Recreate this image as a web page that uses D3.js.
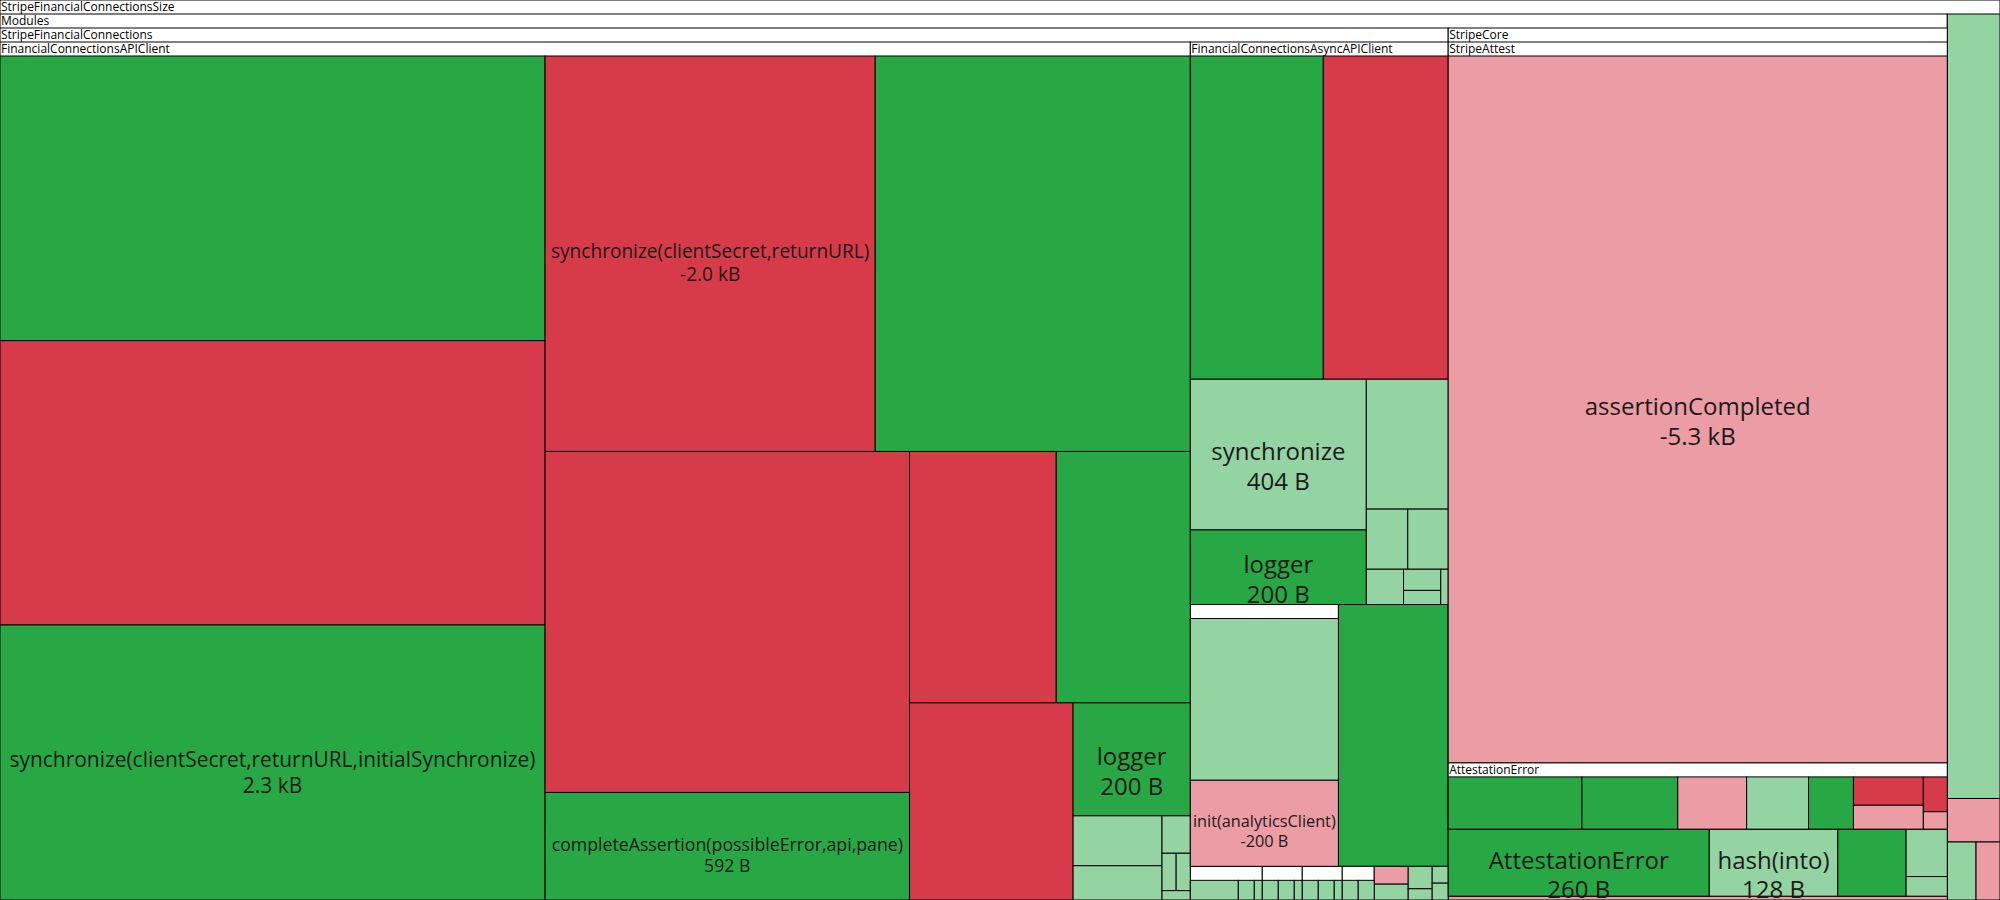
<!DOCTYPE html>
<html>
<head>
<meta charset="utf-8">
<script src="https://cdn.jsdelivr.net/npm/d3@7"></script>
<style>
  html, body { margin: 0; padding: 0; background: #fff; }
  svg { display: block; font-family: "Open Sans", sans-serif; }
</style>
</head>
<body>
<svg id="chart" width="2000" height="900"></svg>
<script>
// ---------------- DATA (bytes, signed change; status drives colour) ----------------
const apiClientLeaves = [
  { name: "", status: "added", change: 2343 },
  { name: "", status: "removed", change: -2341 },
  { name: "synchronize(clientSecret,returnURL,initialSynchronize)", status: "added", change: 2264 },
  { name: "synchronize(clientSecret,returnURL)", status: "removed", change: -1972 },
  { name: "", status: "added", change: 1882 },
  { name: "", status: "removed", change: -1877 },
  { name: "completeAssertion(possibleError,api,pane)", status: "added", change: 592 },
  { name: "", status: "removed", change: -557 },
  { name: "", status: "added", change: 509 },
  { name: "", status: "removed", change: -487 },
  { name: "logger", status: "added", change: 200 },
  { name: "", status: "increased", change: 67 },
  { name: "", status: "increased", change: 46 },
  { name: "", status: "increased", change: 16 },
  { name: "", status: "increased", change: 8 },
  { name: "", status: "increased", change: 8 },
  { name: "", status: "increased", change: 4 }
];

const asyncClientLeaves = [
  { name: "", status: "added", change: 655 },
  { name: "", status: "removed", change: -615 },
  { name: "synchronize", status: "increased", change: 404 },
  { name: "logger", status: "added", change: 200 },
  { name: "", status: "increased", change: 162 },
  { name: "", status: "increased", change: 38 },
  { name: "", status: "increased", change: 37 },
  { name: "", status: "increased", change: 20 },
  { name: "", status: "increased", change: 12 },
  { name: "", status: "increased", change: 8 },
  { name: "", status: "increased", change: 4 }
];

const asyncExtensionLeaves = [
  { name: "", status: "increased", change: 376 },
  { name: "init(analyticsClient)", status: "decreased", change: -200 }
];

const smallTypeA = [
  { name: "", status: "increased", change: 24 },
  { name: "", status: "increased", change: 8 },
  { name: "", status: "increased", change: 4 }
];
const smallTypeB = [
  { name: "", status: "increased", change: 8 },
  { name: "", status: "increased", change: 8 },
  { name: "", status: "increased", change: 4 }
];
const smallTypeC = [
  { name: "", status: "increased", change: 8 },
  { name: "", status: "increased", change: 8 },
  { name: "", status: "increased", change: 4 }
];
const smallTypeD = [
  { name: "", status: "increased", change: 8 },
  { name: "", status: "increased", change: 8 }
];

const connectionsLeaves = [
  { name: "", status: "added", change: 427 },
  { name: "", status: "decreased", change: -9 },
  { name: "", status: "increased", change: 8 },
  { name: "", status: "increased", change: 8 },
  { name: "", status: "increased", change: 4 },
  { name: "", status: "increased", change: 4 },
  { name: "", status: "increased", change: 4 }
];

const attestLeaves = [
  { name: "assertionCompleted", status: "decreased", change: -5337 }
];

const attestationErrorLeaves = [
  { name: "", status: "added", change: 134 },
  { name: "", status: "added", change: 96 },
  { name: "", status: "decreased", change: -69 },
  { name: "", status: "increased", change: 62 },
  { name: "", status: "added", change: 45 },
  { name: "", status: "removed", change: -38 },
  { name: "", status: "decreased", change: -32 },
  { name: "", status: "removed", change: -16 },
  { name: "", status: "decreased", change: -8 }
];

const coreLeaves = [
  { name: "AttestationError", status: "added", change: 260 },
  { name: "hash(into)", status: "increased", change: 128 },
  { name: "", status: "added", change: 68 },
  { name: "", status: "increased", change: 29 },
  { name: "", status: "increased", change: 12 }
];

const modulesLeaves = [
  { name: "", status: "decreased", change: -28 }
];

const rootLeaves = [
  { name: "", status: "increased", change: 595 },
  { name: "", status: "decreased", change: -33 },
  { name: "", status: "increased", change: 24 },
  { name: "", status: "decreased", change: -20 }
];

const statusColors = {
  added: "#28a745",
  removed: "#d73a49",
  increased: "#94d3a2",
  decreased: "#eb9ca4"
};

// ---------------- HIERARCHY ----------------
const tree = {
  name: "StripeFinancialConnectionsSize",
  children: [
    {
      name: "Modules",
      children: [
        {
          name: "StripeFinancialConnections",
          children: [
            { name: "FinancialConnectionsAPIClient", children: apiClientLeaves },
            { name: "FinancialConnectionsAsyncAPIClient", children: asyncClientLeaves },
            { name: "", children: asyncExtensionLeaves },
            { name: "", children: smallTypeA },
            { name: "", children: smallTypeB },
            { name: "", children: smallTypeC },
            { name: "", children: smallTypeD },
            ...connectionsLeaves
          ]
        },
        {
          name: "StripeCore",
          children: [
            {
              name: "StripeAttest",
              children: [
                ...attestLeaves,
                { name: "AttestationError", children: attestationErrorLeaves }
              ]
            },
            ...coreLeaves
          ]
        },
        ...modulesLeaves
      ]
    },
    ...rootLeaves
  ]
};

const W = 2000, H = 900;

const root = d3.hierarchy(tree)
  .sum(d => d.children ? 0 : Math.abs(d.change))
  .sort((a, b) => b.value - a.value);

d3.treemap()
  .size([W, H])
  .paddingTop(14)
  .tile(d3.treemapSquarify)(root);

const svg = d3.select("#chart");

function fmt(v) {
  const a = Math.abs(v);
  const s = v < 0 ? "-" : "";
  return a >= 1000 ? s + (a / 1000).toFixed(1) + " kB" : s + Math.round(a) + " B";
}

const node = svg.selectAll("g.node")
  .data(root.descendants())
  .join("g")
  .attr("class", "node");

node.append("rect")
  .attr("x", d => d.x0)
  .attr("y", d => d.y0)
  .attr("width", d => Math.max(0, d.x1 - d.x0))
  .attr("height", d => Math.max(0, d.y1 - d.y0))
  .attr("fill", d => d.children ? "#ffffff" : statusColors[d.data.status])
  .attr("stroke", "#000")
  .attr("stroke-width", 1);

// group headers
node.filter(d => d.children && d.data.name)
  .append("text")
  .attr("x", d => d.x0 + 1)
  .attr("y", d => d.y0 + 11)
  .attr("font-size", 12)
  .attr("fill", "#000")
  .text(d => d.data.name);

// leaf labels
node.filter(d => !d.children && d.data.name).each(function (d) {
  const g = d3.select(this);
  const w = d.x1 - d.x0;
  const cx = (d.x0 + d.x1) / 2;
  const cy = (d.y0 + d.y1) / 2;
  const t1 = g.append("text")
    .attr("x", cx)
    .attr("text-anchor", "middle")
    .attr("dominant-baseline", "central")
    .attr("font-size", 24)
    .attr("fill", "#1a1a1a")
    .text(d.data.name);
  const tw = t1.node().getComputedTextLength();
  const fs = Math.min(24, 24 * (w * 0.965) / tw);
  t1.attr("font-size", fs).attr("y", cy - fs * 0.15);
  g.append("text")
    .attr("x", cx)
    .attr("y", cy - fs * 0.15 + fs * 1.23)
    .attr("text-anchor", "middle")
    .attr("dominant-baseline", "central")
    .attr("font-size", fs)
    .attr("fill", "#1a1a1a")
    .text(fmt(d.data.change));
});
</script>
</body>
</html>
